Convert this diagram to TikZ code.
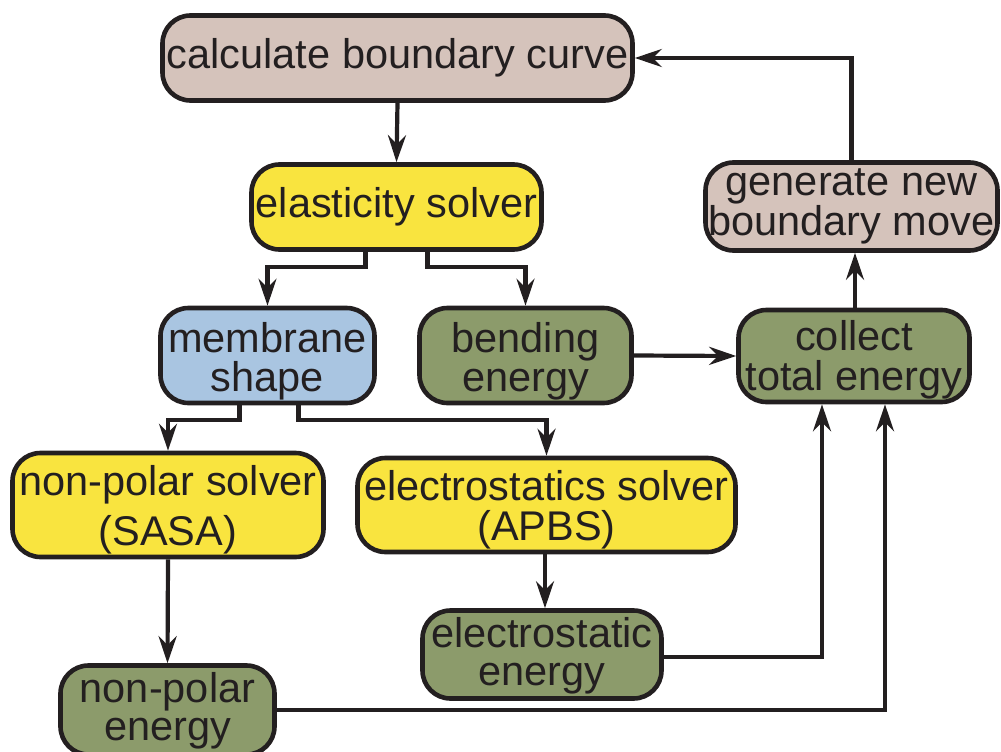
\documentclass[tikz,border=0pt]{standalone}
\usepackage{fontspec}
\setmainfont{Liberation Sans}
\usetikzlibrary{arrows.meta}
\definecolor{beige}{HTML}{D5C3BB}
\definecolor{yel}{HTML}{F9E43F}
\definecolor{blu}{HTML}{A9C5E1}
\definecolor{grn}{HTML}{8C9B6B}
\definecolor{ink}{HTML}{231F20}
\newcommand\topst[1]{\rule{0pt}{#1pt}}
\newcommand\botst[1]{\rule[-#1pt]{0pt}{0pt}}
\begin{document}
\begin{tikzpicture}[x=1pt,y=-1pt,
  box/.style={draw=ink, line width=4.6pt, rounded corners=28pt, align=center, inner sep=0pt,
    font=\fontsize{41.5}{39}\selectfont, text=ink},
  bs/.style={font=\fontsize{41.5}{#1}\selectfont},
  conn/.style={line width=4.2pt, draw=ink, -{Stealth[length=27pt,width=18pt,inset=9pt]}},
]
\useasboundingbox (0,0) rectangle (1001,752);
\node[box, fill=beige, minimum width=470pt, minimum height=85pt] (calc) at (397.5,58) {calculate boundary curve};
\node[box, fill=yel, minimum width=290pt, minimum height=85pt] (elast) at (396.5,207) {elasticity solver};
\node[box, fill=blu, bs=39, minimum width=214pt, minimum height=88pt] (memb) at (267.5,355.5) {\topst{44}membrane\\shape\botst{12}};
\node[box, fill=grn, bs=39, minimum width=212pt, minimum height=88pt] (bend) at (525.5,355.5) {\topst{44}bending\\energy\botst{12}};
\node[box, fill=grn, bs=40, minimum width=231pt, minimum height=89pt] (coll) at (854,356) {\topst{40}collect\\total energy\botst{12}};
\node[box, fill=beige, bs=40, minimum width=292pt, minimum height=88pt] (gen) at (851.5,206.5) {\topst{29}generate new\\boundary move\botst{12}};
\node[box, fill=yel, bs=50, minimum width=311pt, minimum height=86pt] (nps) at (168,505) {\topst{42}non-polar solver\\(SASA)\botst{12}};
\node[box, fill=yel, bs=40, minimum width=378pt, minimum height=86pt] (ess) at (546.5,505) {\topst{42}electrostatics solver\\(APBS)\botst{12}};
\node[box, fill=grn, bs=38, minimum width=239pt, minimum height=88pt] (ese) at (542,654.5) {\topst{36}electrostatic\\energy\botst{12}};
\node[box, fill=grn, bs=38, minimum width=214pt, minimum height=89pt] (npe) at (167.5,710) {\topst{35}non-polar\\energy\botst{12}};

\draw[conn] (calc.south) -- (elast.north);
\draw[conn] ([xshift=-31pt]elast.south) -- ++(0,15) -| (memb.north);
\draw[conn] ([xshift=31pt]elast.south) -- ++(0,15) -| (bend.north);
\draw[conn] ([xshift=-28pt]memb.south) -- ++(0,15) -| (nps.north);
\draw[conn] ([xshift=31pt]memb.south) -- ++(0,15) -| (ess.north);
\draw[conn] (bend.east) -- (coll.west);
\draw[conn] ([xshift=1pt]coll.north) -- ([xshift=1pt]coll.north |- gen.south);
\draw[conn] (gen.north) |- (calc.east);
\draw[conn] (nps.south) -- (npe.north);
\draw[conn] ([xshift=-1.5pt]ess.south) -- ([xshift=-1.5pt]ess.south |- ese.north);
\draw[conn] ([yshift=-2.5pt]ese.east) -| ([xshift=-32pt]coll.south);
\draw[conn] (npe.east) -| ([xshift=31pt]coll.south);
\end{tikzpicture}
\end{document}
